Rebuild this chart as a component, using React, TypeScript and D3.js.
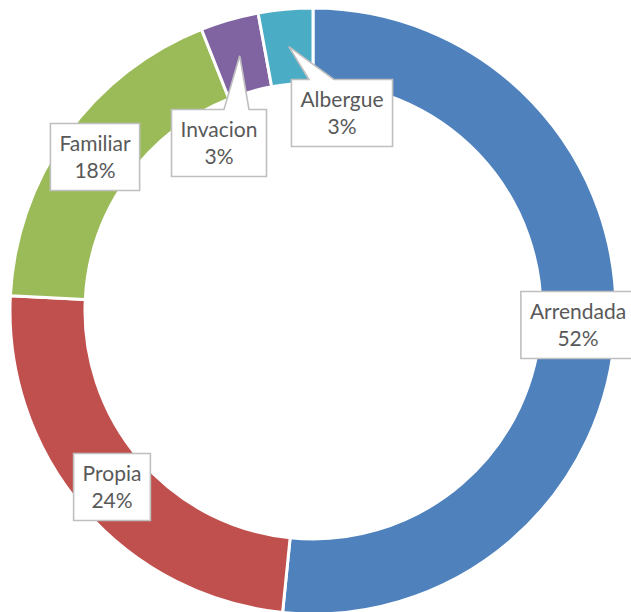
import { useEffect, useRef } from "react";
import * as d3 from "d3";

const categories = ["Arrendada", "Propia", "Familiar", "Invacion", "Albergue"];
const values = [51.6, 24.2, 18.2, 3.1, 2.9];
const colors = ["#4F81BD", "#C0504D", "#9BBB59", "#8064A2", "#4BACC6"];

// label box centres (dragged by hand in the original), and which have a callout
const labelPos: [number, number][] = [[578, 325], [112, 487], [95, 157], [219, 143], [342, 113]];
const callout = [false, false, false, true, true];

export default function App() {
  const svgRef = useRef<SVGSVGElement>(null);

  useEffect(() => {
    const svg = d3.select(svgRef.current);
    svg.selectAll("*").remove();

    const width = 631, height = 612;
    const cx = 313, cy = 311, outerR = 303, innerR = 228;

    const data = categories.map((c, i) => ({ name: c, value: values[i], color: colors[i], idx: i }));
    const total = d3.sum(values);

    const pie = d3.pie<any>().value(d => d.value).sort(null);
    const arc = d3.arc<any>().innerRadius(innerR).outerRadius(outerR);
    const arcs = pie(data);

    svg.attr("width", width).attr("height", height);
    const g = svg.append("g").attr("transform", `translate(${cx},${cy})`);

    g.selectAll(".slice").data(arcs).enter().append("path")
      .attr("d", arc)
      .attr("fill", d => d.data.color)
      .attr("stroke", "#fff").attr("stroke-width", 3).attr("stroke-linejoin", "round");

    const fmt = (v: number) => `${Math.round((v / total) * 100)}%`;
    const boxH = 67, padX = 9;

    arcs.forEach((a, i) => {
      const [lx, ly] = labelPos[i];
      const lg = svg.append("g");
      const path = lg.append("path").attr("fill", "#fff").attr("stroke", "#bfbfbf").attr("stroke-width", 1.6);
      const t1 = lg.append("text").attr("x", lx).attr("y", ly - 6).attr("text-anchor", "middle")
        .style("font-family", "Lato, 'Open Sans', sans-serif").style("font-size", "21px").style("fill", "#595959")
        .text(a.data.name);
      const t2 = lg.append("text").attr("x", lx).attr("y", ly + 21).attr("text-anchor", "middle")
        .style("font-family", "Lato, 'Open Sans', sans-serif").style("font-size", "21px").style("fill", "#595959")
        .text(fmt(a.data.value));
      const tw = Math.max((t1.node() as SVGTextElement).getComputedTextLength(), (t2.node() as SVGTextElement).getComputedTextLength());
      const w = tw + padX * 2;
      const x0 = lx - w / 2, x1 = lx + w / 2, y0 = ly - boxH / 2, y1 = ly + boxH / 2;
      let d = `M${x0},${y0}`;
      if (callout[i]) {
        const [tx, ty] = arc.centroid(a);
        const tipX = tx + cx, tipY = ty + cy;
        const bc = Math.max(x0 + 30, Math.min(x1 - 30, tipX));
        d += `L${bc - 12.5},${y0}L${tipX},${tipY}L${bc + 12.5},${y0}`;
      }
      d += `L${x1},${y0}L${x1},${y1}L${x0},${y1}Z`;
      path.attr("d", d);
    });
  }, []);

  return <svg ref={svgRef} style={{ position: "absolute", left: 0, top: 0 }} />;
}
